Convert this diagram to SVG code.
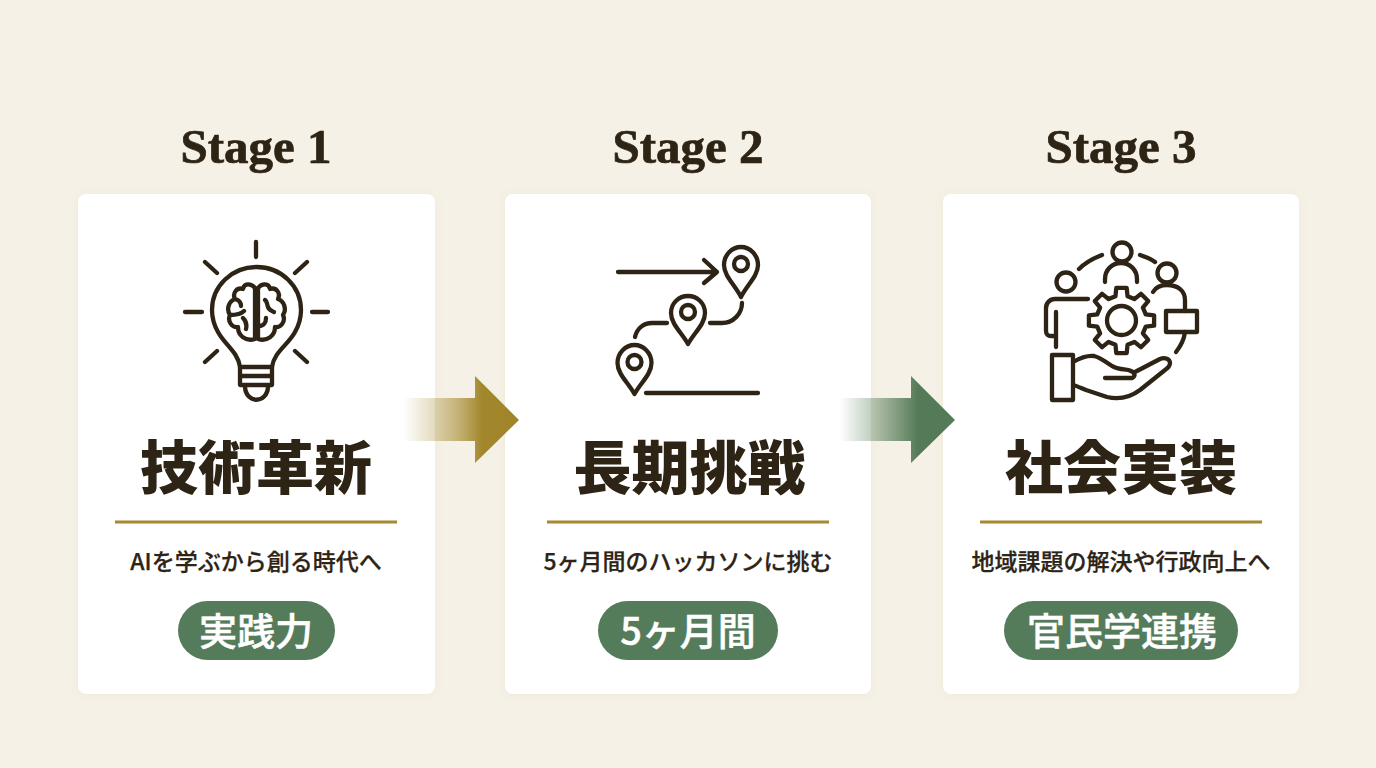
<svg xmlns="http://www.w3.org/2000/svg" width="1376" height="768" viewBox="0 0 1376 768">
<defs>
<linearGradient id="a1" gradientUnits="userSpaceOnUse" x1="403" y1="0" x2="519" y2="0"><stop offset="0" stop-color="#a58a2e" stop-opacity="0"/><stop offset="0.25" stop-color="#a58a2e" stop-opacity="0.28"/><stop offset="0.5" stop-color="#a58a2e" stop-opacity="0.65"/><stop offset="0.68" stop-color="#a3872c"/><stop offset="1" stop-color="#a0842a"/></linearGradient>
<linearGradient id="a2" gradientUnits="userSpaceOnUse" x1="840" y1="0" x2="955" y2="0"><stop offset="0" stop-color="#5a7f5c" stop-opacity="0"/><stop offset="0.25" stop-color="#5a7f5c" stop-opacity="0.35"/><stop offset="0.5" stop-color="#5a7f5c" stop-opacity="0.75"/><stop offset="0.68" stop-color="#557a58"/><stop offset="1" stop-color="#557a58"/></linearGradient>
<filter id="sh" x="-5%" y="-5%" width="110%" height="110%"><feDropShadow dx="0" dy="1" stdDeviation="5" flood-color="#8a7a50" flood-opacity="0.07"/></filter>
</defs>
<style>
.card{fill:#fff;filter:url(#sh)}
.stage{font-family:"Liberation Serif",serif;font-weight:700;font-size:49px;fill:#2e2416;stroke:#2e2416;stroke-width:.7;text-anchor:middle}
.title{font-family:"Noto Sans CJK JP",sans-serif;font-weight:900;font-size:58px;fill:#2e2416;text-anchor:middle}
.sub{font-family:"Noto Sans CJK JP",sans-serif;font-weight:500;font-size:23px;fill:#2e2416;stroke:#2e2416;stroke-width:.25;text-anchor:middle}
.pill{fill:#557c5a}
.ptxt{font-family:"Noto Sans CJK JP",sans-serif;font-weight:500;font-size:38px;fill:#fff;stroke:#fff;stroke-width:.5;text-anchor:middle}
.rule{stroke:#a58a2e;stroke-width:3}
.ic{fill:none;stroke:#2e2416;stroke-width:4.3;stroke-linecap:round;stroke-linejoin:round}
</style>
<rect width="1376" height="768" fill="#f5f1e6"/>
<g id="node-1">
<rect class="card" x="78" y="194" width="357" height="500" rx="8"/>
<text class="stage" x="256" y="163">Stage 1</text>
<g class="ic">
<path d="M256 242V257M205 262L217 273M307 262L295 273M185 312H202M312 312H328M205 362L217 351M307 362L295 351"/>
<path d="M240 367C238 352 225 345 218 332C214 325 212 318 212 310C212 286 232 267 256.5 267C281 267 301 286 301 310C301 318 299 325 295 332C288 345 274 352 272 367Z"/>
<path d="M240 367V385H272V367M240 376H272"/>
<path d="M245 387C246 404 267 404 268 387"/>
<path d="M255 288C251 283 244 283 243 289C237 287 232 293 235 299C229 301 226 309 230 315C227 321 232 328 238 327C238 335 245 342 255 339V288M235 299C239 300 241 303 241 306M230 315C235 315 241 314 244 311M243 318C246 321 247 325 246 329"/>
<path d="M258 288C262 283 269 283 270 289C276 287 281 293 278 299C284 301 287 309 283 315C286 321 281 328 275 327C275 335 268 342 258 339V288M265 300C267 301 267 305 268 307C269 310 272 311 274 312M259 326C264 326 266 322 266 318"/>
</g>
<text class="title" x="256" y="489">技術革新</text>
<line class="rule" x1="115" y1="522" x2="397" y2="522"/>
<text class="sub" x="256" y="570">AIを学ぶから創る時代へ</text>
<rect class="pill" x="178" y="601" width="157" height="59" rx="29.5"/>
<text class="ptxt" x="256" y="645">実践力</text>
</g>
<g id="node-2">
<rect class="card" x="505" y="194" width="366" height="500" rx="8"/>
<text class="stage" x="688" y="163">Stage 2</text>
<g class="ic">
<path d="M618 272H717M704 260L717 272L704 283"/>
<path d="M741 297C735 285 724 276 724 265C724 255 732 247 741 247C750 247 758 255 758 265C758 276 747 285 741 297Z"/>
<circle cx="741" cy="264" r="7"/>
<path d="M688 344C682 333 671 324 671 313C671 303 679 296 688 296C697 296 705 303 705 313C705 324 694 333 688 344Z"/>
<circle cx="688" cy="312" r="7"/>
<path d="M634.5 394C628.5 383 617.5 374 617.5 363C617.5 353 625.5 345 634.5 345C643.5 345 651.5 353 651.5 363C651.5 374 640.5 383 634.5 394Z"/>
<circle cx="634.5" cy="362" r="7"/>
<path d="M635 337C637 328 644 323 652 323H667M710 323H722C733 323 742 314 742 303"/>
<path d="M646 393H758"/>
</g>
<text class="title" x="689.5" y="489">長期挑戦</text>
<line class="rule" x1="547" y1="522" x2="829" y2="522"/>
<text class="sub" x="688" y="570">5ヶ月間のハッカソンに挑む</text>
<rect class="pill" x="598" y="601" width="180" height="59" rx="29.5"/>
<text class="ptxt" x="688" y="645">5ヶ月間</text>
</g>
<g id="node-3">
<rect class="card" x="943" y="194" width="356" height="500" rx="8"/>
<text class="stage" x="1121" y="163">Stage 3</text>
<g class="ic">
<circle cx="1122" cy="252" r="9.5"/>
<path d="M1105 282V279C1105 270 1112 263 1121 263C1130 263 1137 270 1137 279V282"/>
<path d="M1079 269C1085 263 1094 258 1102 255M1140 255C1146 257 1151 259 1155 262"/>
<circle cx="1167" cy="273" r="9.5"/>
<path d="M1153 292C1156 287 1161 285 1167 285C1178 285 1185 291 1185 300V311M1185 332C1184 340 1180 347 1176 352"/>
<rect x="1166" y="311" width="31" height="21"/>
<circle cx="1066" cy="282" r="9.5"/>
<path d="M1088 299H1055C1050 299 1046 303 1046 308V331C1046 334 1048 336 1051 336H1056M1056 312V347"/>
<circle cx="1121.5" cy="320.5" r="14.5"/>
<path transform="translate(1121.5 320.5)" d="M-5.2 -32.6L5.2 -32.6L6.05 -24.25L12.9 -21.4L19.4 -26.7L26.7 -19.4L21.4 -12.9L24.25 -6.05L32.6 -5.2L32.6 5.2L24.25 6.05L21.4 12.9L26.7 19.4L19.4 26.7L12.9 21.4L6.05 24.25L5.2 32.6L-5.2 32.6L-6.05 24.25L-12.9 21.4L-19.4 26.7L-26.7 19.4L-21.4 12.9L-24.25 6.05L-32.6 5.2L-32.6 -5.2L-24.25 -6.05L-21.4 -12.9L-26.7 -19.4L-19.4 -26.7L-12.9 -21.4L-6.05 -24.25Z"/>
<rect x="1052" y="355" width="21" height="45"/>
<path d="M1073 362C1080 358 1087 355 1094 356C1102 358 1108 364 1114 367C1120 370 1127 369 1131 371C1135 373 1136 376 1132 378H1105M1135 372L1160 359C1165 357 1170 359 1170 363C1170 366 1168 368 1165 370L1140 390C1132 396 1120 400 1107 397L1086 390C1081 388 1077 386 1073 385"/>
</g>
<text class="title" x="1121" y="489">社会実装</text>
<line class="rule" x1="980" y1="522" x2="1262" y2="522"/>
<text class="sub" x="1121" y="570">地域課題の解決や行政向上へ</text>
<rect class="pill" x="1004" y="601" width="234" height="59" rx="29.5"/>
<text class="ptxt" x="1122" y="645">官民学連携</text>
</g>
<g id="connectors">
<path d="M403 398H475V376L519 420L475 463V441H403Z" fill="url(#a1)"/>
<path d="M840 398H911V376L955 420L911 463V441H840Z" fill="url(#a2)"/>
</g>
</svg>
